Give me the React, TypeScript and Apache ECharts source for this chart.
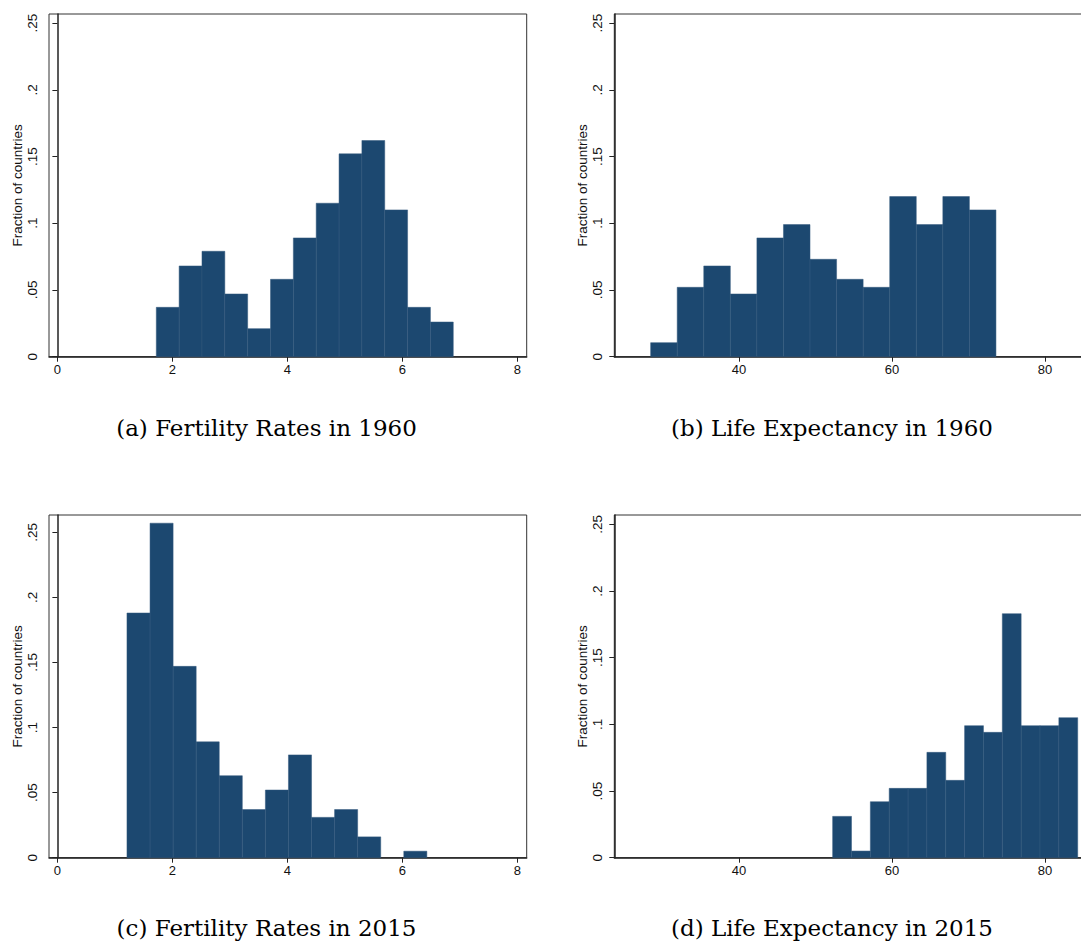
import React, { useEffect, useRef } from "react";
import * as echarts from "echarts";

// ---- Data (fraction of countries per histogram bin, 13 bins each) ----
const FERT1960_START = 1.72;
const FERT1960_WIDTH = 0.3973;
const FERT1960_FRAC = [0.037, 0.068, 0.079, 0.047, 0.021, 0.058, 0.089, 0.115, 0.152, 0.162, 0.110, 0.037, 0.026];

const LIFE1960_START = 28.45;
const LIFE1960_WIDTH = 3.472;
const LIFE1960_FRAC = [0.0105, 0.052, 0.068, 0.047, 0.089, 0.099, 0.073, 0.058, 0.052, 0.120, 0.099, 0.120, 0.110];

const FERT2015_START = 1.21;
const FERT2015_WIDTH = 0.4012;
const FERT2015_FRAC = [0.188, 0.257, 0.147, 0.089, 0.063, 0.037, 0.052, 0.079, 0.031, 0.037, 0.016, 0, 0.005];

const LIFE2015_START = 52.24;
const LIFE2015_WIDTH = 2.464;
const LIFE2015_FRAC = [0.031, 0.005, 0.042, 0.052, 0.052, 0.079, 0.058, 0.099, 0.094, 0.183, 0.099, 0.099, 0.105];

const FERT_TICKS = [0, 2, 4, 6, 8];
const LIFE_TICKS = [40, 60, 80];
const Y_TICKS = [0, 0.05, 0.1, 0.15, 0.2, 0.25];

const Y_NAME = "Fraction of countries";
const CAPTIONS = [
  "(a) Fertility Rates in 1960",
  "(b) Life Expectancy in 1960",
  "(c) Fertility Rates in 2015",
  "(d) Life Expectancy in 2015",
];

const BAR_COLOR = "#1c4870";
const AXIS_COLOR = "#222222";
const SANS = "'Liberation Sans', Arial, sans-serif";

function bins(start: number, width: number, frac: number[]) {
  return frac.map((f, i) => [start + i * width, start + (i + 1) * width, f]);
}

function yLabel(v: number) {
  if (v === 0) return "0";
  return String(+v.toFixed(2)).replace(/^0/, "");
}

export default function App() {
  const ref = useRef<HTMLDivElement>(null);

  useEffect(() => {
    if (!ref.current) return;
    document.body.style.overflow = "hidden";
    const chart = echarts.init(ref.current, undefined, { renderer: "svg" });

    const gridW = 477.7;
    const gridH = 342.7;
    const grids = [
      { left: 49, top: 14 },
      { left: 614.3, top: 14 },
      { left: 49, top: 515 },
      { left: 614.3, top: 515 },
    ].map((g) => ({
      ...g,
      width: gridW,
      height: gridH,
      show: true,
      borderColor: "#333333",
      borderWidth: 1,
      backgroundColor: "#ffffff",
    }));

    const xRanges = [
      { min: -0.146, max: 8.162, ticks: FERT_TICKS },
      { min: 23.7, max: 86.14, ticks: LIFE_TICKS },
      { min: -0.146, max: 8.162, ticks: FERT_TICKS },
      { min: 23.7, max: 86.14, ticks: LIFE_TICKS },
    ];
    const yMax = [0.2568, 0.2568, 0.2633, 0.257];

    const xAxis = xRanges.map((r, i) => ({
      type: "value",
      gridIndex: i,
      min: r.min,
      max: r.max,
      axisLine: { show: true, onZero: false, lineStyle: { color: AXIS_COLOR, width: 1.5 } },
      axisTick: { show: true, length: 5, customValues: r.ticks, lineStyle: { color: AXIS_COLOR, width: 1 } },
      axisLabel: {
        customValues: r.ticks,
        margin: 6,
        color: "#111111",
        fontFamily: SANS,
        fontSize: 13,
        formatter: (v: number) => String(v),
      },
      splitLine: { show: false },
    }));

    const yAxis = yMax.map((m, i) => ({
      type: "value",
      gridIndex: i,
      min: 0,
      max: m,
      name: Y_NAME,
      nameLocation: "middle",
      nameGap: 25,
      nameTextStyle: { fontFamily: SANS, fontSize: 13.5, color: "#111111" },
      axisLine: { show: true, lineStyle: { color: AXIS_COLOR, width: 1.5 } },
      axisTick: { show: true, length: 5, customValues: Y_TICKS, lineStyle: { color: AXIS_COLOR, width: 1 } },
      axisLabel: {
        customValues: Y_TICKS,
        rotate: 90,
        margin: 10,
        color: "#111111",
        fontFamily: SANS,
        fontSize: 13.5,
        formatter: (v: number) => yLabel(v),
      },
      splitLine: { show: false },
    }));

    const datasets = [
      bins(FERT1960_START, FERT1960_WIDTH, FERT1960_FRAC),
      bins(LIFE1960_START, LIFE1960_WIDTH, LIFE1960_FRAC),
      bins(FERT2015_START, FERT2015_WIDTH, FERT2015_FRAC),
      bins(LIFE2015_START, LIFE2015_WIDTH, LIFE2015_FRAC),
    ];

    const series = datasets.map((d, i) => ({
      type: "custom",
      xAxisIndex: i,
      yAxisIndex: i,
      data: d,
      encode: { x: [0, 1], y: 2 },
      renderItem: (params: any, api: any) => {
        const x0 = api.value(0);
        const x1 = api.value(1);
        const y = api.value(2);
        if (!y) return null;
        const pTop = api.coord([x0, y]);
        const pBot = api.coord([x1, 0]);
        return {
          type: "rect",
          shape: {
            x: pTop[0],
            y: pTop[1],
            width: pBot[0] - pTop[0],
            height: pBot[1] - pTop[1],
          },
          style: { fill: BAR_COLOR, stroke: "#33587d", lineWidth: 0.5 },
        };
      },
      z: 1,
    }));

    const capPos = [
      [266.5, 428],
      [832, 428],
      [266.5, 928],
      [832, 928],
    ];
    const graphic = CAPTIONS.map((t, i) => ({
      type: "text",
      x: capPos[i][0],
      y: capPos[i][1],
      style: {
        text: t,
        font: "23px 'DejaVu Serif', serif",
        fill: "#000000",
        textAlign: "center",
        textVerticalAlign: "middle",
      },
    }));

    chart.setOption({
      animation: false,
      backgroundColor: "#ffffff",
      grid: grids,
      xAxis,
      yAxis,
      series,
      graphic,
    } as any);

    return () => chart.dispose();
  }, []);

  return (
    <div
      style={{ position: "absolute", left: 0, top: 0, width: 1081, height: 942, overflow: "hidden" }}
    >
      <div ref={ref} style={{ width: 1100, height: 942 }} />
    </div>
  );
}
